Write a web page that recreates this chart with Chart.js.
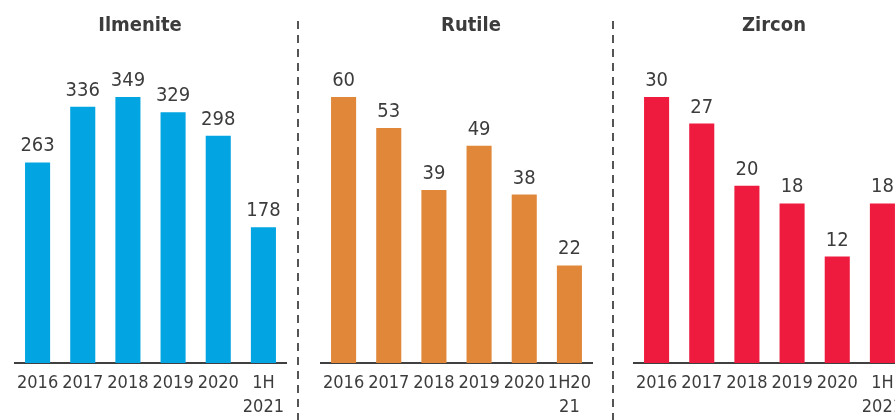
<!DOCTYPE html>
<html>
<head>
<meta charset="utf-8">
<script src="https://cdn.jsdelivr.net/npm/chart.js@4/dist/chart.umd.min.js"></script>
<style>
  html, body { margin: 0; padding: 0; background: #ffffff; }
  #stage { position: relative; width: 895px; height: 420px; overflow: hidden; background: #ffffff; }
  .panel { position: absolute; top: 0; width: 300px; height: 420px; }
  .title { position: absolute; top: 12px; width: 200px; text-align: center;
           font: bold 20px "DejaVu Sans Condensed", "DejaVu Sans", sans-serif; color: #3c3c3c; }
  .sep { position: absolute; top: 21px; width: 2px; height: 399px;
         background: repeating-linear-gradient(to bottom, #555555 0px, #555555 8px, transparent 8px, transparent 14px); }
</style>
</head>
<body>
<div id="stage">
  <div class="panel" style="left:0px"><canvas id="c1" width="300" height="420"></canvas></div>
  <div class="panel" style="left:306px"><canvas id="c2" width="300" height="420"></canvas></div>
  <div class="panel" style="left:619px"><canvas id="c3" width="300" height="420"></canvas></div>
  <div class="title" style="left:40px">Ilmenite</div>
  <div class="title" style="left:371px">Rutile</div>
  <div class="title" style="left:674px">Zircon</div>
  <div class="sep" style="left:297px"></div>
  <div class="sep" style="left:612px"></div>
</div>
<script>
const categories = ['2016', '2017', '2018', '2019', '2020', ['1H', '2021']];
const categoriesRutile = ['2016', '2017', '2018', '2019', '2020', ['1H20', '21']];
const ilmenite = [263, 336, 349, 329, 298, 178];
const rutile = [60, 53, 39, 49, 38, 22];
const zircon = [30, 27, 20, 18, 12, 18];

const FONT = '"DejaVu Sans Condensed", "DejaVu Sans", sans-serif';
const TEXT = '#3c3c3c';

const valueLabels = {
  id: 'valueLabels',
  afterDatasetsDraw(chart) {
    const ctx = chart.ctx;
    const meta = chart.getDatasetMeta(0);
    const data = chart.data.datasets[0].data;
    ctx.save();
    ctx.font = '20px ' + FONT;
    ctx.fillStyle = TEXT;
    ctx.textAlign = 'center';
    ctx.textBaseline = 'alphabetic';
    meta.data.forEach((bar, i) => {
      ctx.fillText(String(data[i]), bar.x, bar.y - 11);
    });
    ctx.restore();
  }
};

function makeChart(id, labels, values, color, yMax) {
  return new Chart(document.getElementById(id), {
    type: 'bar',
    data: {
      labels: labels,
      datasets: [{ data: values, backgroundColor: color, borderWidth: 0,
                   categoryPercentage: 1.0, barPercentage: 0.555 }]
    },
    options: {
      responsive: false,
      devicePixelRatio: 1,
      animation: false,
      layout: { padding: { left: 15, right: 14, top: 58, bottom: 0 } },
      plugins: { legend: { display: false }, tooltip: { enabled: false }, title: { display: false } },
      scales: {
        x: {
          grid: { display: false, drawTicks: false },
          border: { display: true, color: '#404040', width: 2 },
          ticks: { color: TEXT, font: { family: FONT, size: 18, lineHeight: 1.333 },
                   padding: 8, autoSkip: false, maxRotation: 0, minRotation: 0 },
          afterFit(scale) { scale.height = 57; }
        },
        y: { display: false, min: 0, max: yMax }
      }
    },
    plugins: [valueLabels]
  });
}

makeChart('c1', categories, ilmenite, '#02A5E1', 400);
makeChart('c2', categoriesRutile, rutile, '#E0873A', 68.8);
makeChart('c3', categories, zircon, '#EE1B3E', 34.4);
</script>
</body>
</html>
